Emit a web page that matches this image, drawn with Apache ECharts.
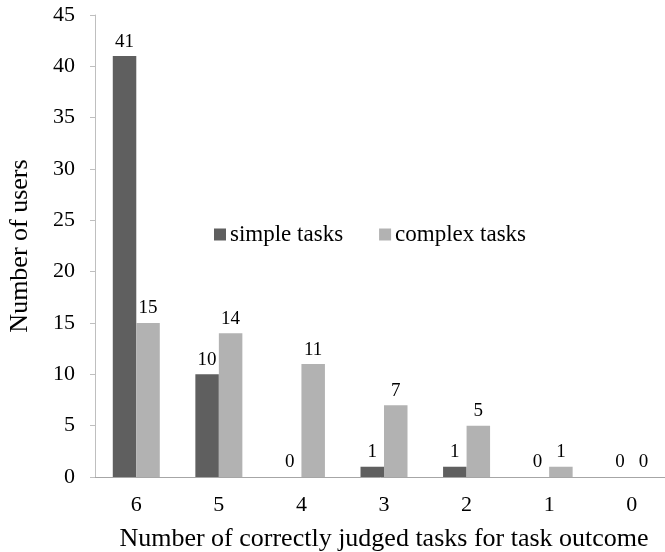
<!DOCTYPE html>
<html><head><meta charset="utf-8">
<script src="https://cdn.jsdelivr.net/npm/echarts@6/dist/echarts.min.js"></script>
<style>html,body{margin:0;padding:0;background:#fff}#c{width:665px;height:552px}</style>
</head><body><div id="c"></div>
<script>
const categories = ['6','5','4','3','2','1','0'];
const simpleTasks = [41,10,0,1,1,0,0];
const complexTasks = [15,14,11,7,5,1,0];
const yTicks = {min:0,max:45,interval:5};
const font = '"Liberation Serif", "DejaVu Serif", serif';
const chart = echarts.init(document.getElementById('c'));
const lbl = {show:true,position:'top',distance:5,color:'#000',fontFamily:font,fontSize:19};
chart.setOption({
  animation:false,
  textStyle:{fontFamily:font},
  grid:{left:95,right:-8,top:15,bottom:75,containLabel:false,outerBoundsMode:'none'},
  legend:{
    data:['simple tasks','complex tasks'],left:209,top:218,itemWidth:12,itemHeight:12,itemGap:36,
    icon:'rect',textStyle:{fontFamily:font,fontSize:23,color:'#000',padding:[0,0,0,-1]}
  },
  xAxis:{
    type:'category',data:categories,
    axisLine:{lineStyle:{color:'#a6a6a6'}},axisTick:{show:false},
    axisLabel:{color:'#000',fontSize:22,fontFamily:font,margin:17},
    name:'Number of correctly judged tasks for task outcome',nameLocation:'middle',nameGap:49,
    nameTextStyle:{color:'#000',fontSize:26,fontFamily:font}
  },
  yAxis:{
    type:'value',min:yTicks.min,max:yTicks.max,interval:yTicks.interval,
    splitLine:{show:false},
    axisLine:{show:true,lineStyle:{color:'#bfbfbf'}},
    axisTick:{show:true,length:5,lineStyle:{color:'#bfbfbf'}},
    axisLabel:{color:'#000',fontSize:22,fontFamily:font,margin:20},
    name:'Number of users',nameLocation:'middle',nameGap:62,
    nameTextStyle:{color:'#000',fontSize:26,fontFamily:font}
  },
  series:[
    {name:'simple tasks',type:'bar',data:simpleTasks,barWidth:23.5,barGap:'0%',itemStyle:{color:'#5f5f5f'},label:lbl},
    {name:'complex tasks',type:'bar',data:complexTasks,barWidth:23.5,itemStyle:{color:'#b2b2b2'},label:lbl}
  ]
});
</script></body></html>
